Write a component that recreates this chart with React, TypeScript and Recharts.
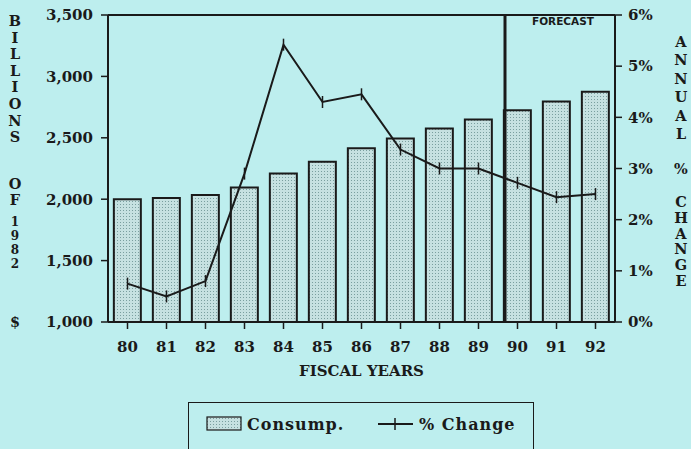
import React from "react";
import {
  ComposedChart,
  Bar,
  Line,
  XAxis,
  YAxis,
  ReferenceLine,
} from "recharts";

const years = ["80", "81", "82", "83", "84", "85", "86", "87", "88", "89", "90", "91", "92"];
const consump = [2000, 2010, 2035, 2095, 2210, 2305, 2415, 2495, 2575, 2650, 2725, 2795, 2875];
const pctChange = [0.75, 0.5, 0.8, 2.9, 5.42, 4.3, 4.45, 3.37, 3.0, 3.0, 2.72, 2.44, 2.5];
const leftTicks = [1000, 1500, 2000, 2500, 3000, 3500];
const rightTicks = [0, 1, 2, 3, 4, 5, 6];

const data = years.map((y, i) => ({ year: y, consump: consump[i], pct: pctChange[i] }));

const BG = "#bdeeee";
const INK = "#1a1a1a";
const FONT = "'DejaVu Serif', serif";

const tickStyle = { fill: INK, fontSize: 15, fontFamily: FONT, fontWeight: 700 };

// vertical stacked letters for the axis titles
const Stack = ({
  text,
  x,
  top,
  step,
  size = 14.5,
}: {
  text: string;
  x: number;
  top: number;
  step: number;
  size?: number;
}) => (
  <>
    {text.split("").map((ch, i) => (
      <div
        key={i}
        style={{
          position: "absolute",
          left: x - 10,
          width: 20,
          top: top + i * step - 6,
          height: 12,
          lineHeight: "12px",
          textAlign: "center",
          fontFamily: FONT,
          fontWeight: 700,
          fontSize: size,
          color: INK,
        }}
      >
        {ch}
      </div>
    ))}
  </>
);

const PlusDot = (props: any) => {
  const { cx, cy } = props;
  if (cx == null || cy == null) return <g />;
  return <line x1={cx} x2={cx} y1={cy - 6} y2={cy + 6} stroke={INK} strokeWidth={1.5} />;
};

const DotPattern = ({ id }: { id: string }) => (
  <pattern id={id} width="3" height="3" patternUnits="userSpaceOnUse">
    <rect width="3" height="3" fill="#c6e1e1" />
    <rect width="1" height="1" fill="#7a9f9f" />
  </pattern>
);

export default function App() {
  return (
    <div
      style={{
        position: "absolute",
        left: 0,
        top: 0,
        width: 691,
        height: 449,
        background: BG,
        overflow: "hidden",
      }}
    >
      <ComposedChart
        width={691}
        height={449}
        data={data}
        margin={{ top: 15, right: 0, bottom: 72, left: 0 }}
        barCategoryGap="15%"
      >
        <defs>
          <DotPattern id="dots" />
        </defs>
        <XAxis
          dataKey="year"
          height={55}
          tickSize={7}
          tickMargin={12}
          tick={tickStyle}
          stroke={INK}
          axisLine={{ stroke: INK, strokeWidth: 2 }}
          tickLine={{ stroke: INK, strokeWidth: 1.5 }}
          label={{
            value: "FISCAL YEARS",
            position: "insideBottom",
            offset: 1,
            fill: INK,
            fontSize: 15,
            fontFamily: FONT,
            fontWeight: 700,
          }}
        />
        <YAxis
          yAxisId="left"
          width={108}
          domain={[1000, 3500]}
          ticks={leftTicks}
          tickFormatter={(v: number) => v.toLocaleString("en-US")}
          tickSize={7}
          tickMargin={8}
          tick={tickStyle}
          axisLine={{ stroke: INK, strokeWidth: 2 }}
          tickLine={{ stroke: INK, strokeWidth: 1.5 }}
          allowDataOverflow
        />
        <YAxis
          yAxisId="right"
          orientation="right"
          width={76}
          domain={[0, 6]}
          ticks={rightTicks}
          tickFormatter={(v: number) => `${v}%`}
          tickSize={7}
          tickMargin={6}
          tick={tickStyle}
          axisLine={{ stroke: INK, strokeWidth: 2 }}
          tickLine={{ stroke: INK, strokeWidth: 1.5 }}
        />
        <ReferenceLine yAxisId="left" y={3500} stroke={INK} strokeWidth={2} />
        <Bar
          yAxisId="left"
          dataKey="consump"
          fill="url(#dots)"
          stroke={INK}
          strokeWidth={2}
          isAnimationActive={false}
        />
        <Line
          yAxisId="right"
          type="linear"
          dataKey="pct"
          stroke={INK}
          strokeWidth={2}
          dot={<PlusDot />}
          activeDot={false}
          isAnimationActive={false}
        />
        <ReferenceLine
          yAxisId="left"
          x="90"
          position="start"
          stroke={INK}
          strokeWidth={3}
          shape={(p: any) => (
            <line x1={p.x1 + 7} x2={p.x2 + 7} y1={p.y1} y2={p.y2} stroke={INK} strokeWidth={3} />
          )}
          label={(p: any) => (
            <text
              x={p.viewBox.x + 34}
              y={p.viewBox.y + 10}
              fill={INK}
              fontSize={10.5}
              fontFamily="'DejaVu Sans', sans-serif"
              fontWeight={700}
            >
              FORECAST
            </text>
          )}
        />
      </ComposedChart>

      <Stack text="BILLIONS" x={15} top={21} step={16.6} />
      <Stack text="OF" x={15} top={184} step={16} />
      <Stack text="1982" x={15} top={222} step={14} size={12} />
      <Stack text="$" x={15} top={322} step={14} />

      <Stack text="ANNUAL" x={681} top={42} step={18.4} />
      <Stack text="%" x={681} top={169} step={14} />
      <Stack text="CHANGE" x={681} top={202} step={15.8} />

      <div
        style={{
          position: "absolute",
          left: 188,
          top: 402,
          width: 346,
          height: 70,
          border: `1.5px solid ${INK}`,
          boxSizing: "border-box",
        }}
      >
        <svg width={346} height={40} style={{ position: "absolute", left: 0, top: 0 }}>
          <defs>
            <DotPattern id="dotsLeg" />
          </defs>
          <rect x={18} y={14} width={34} height={13} fill="url(#dotsLeg)" stroke={INK} strokeWidth={1.2} />
          <text x={58} y={27} fill={INK} fontSize={16} fontFamily={FONT} fontWeight={700} letterSpacing={1}>
            Consump.
          </text>
          <line x1={189} x2={224} y1={21} y2={21} stroke={INK} strokeWidth={1.8} />
          <line x1={206} x2={206} y1={15} y2={27} stroke={INK} strokeWidth={1.5} />
          <text x={230} y={27} fill={INK} fontSize={16} fontFamily={FONT} fontWeight={700} letterSpacing={1}>
            % Change
          </text>
        </svg>
      </div>
    </div>
  );
}
